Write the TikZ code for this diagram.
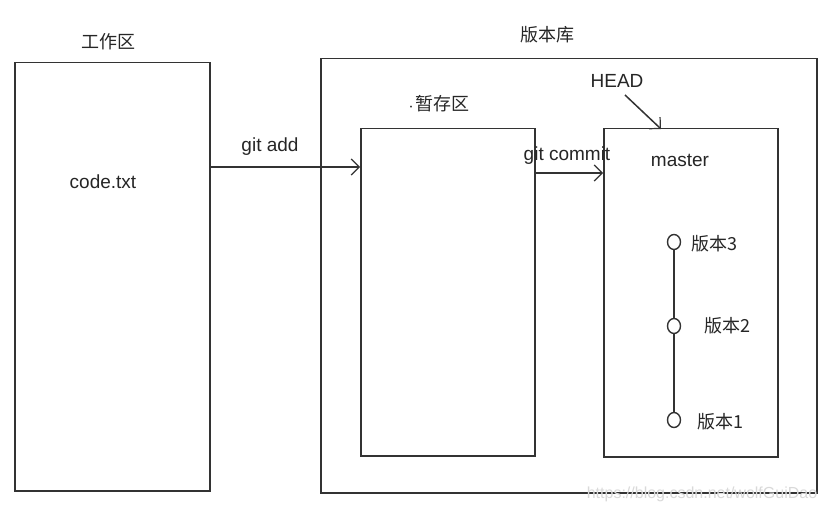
\documentclass[tikz,border=0pt]{standalone}
\usepackage{fontspec}
\setmainfont{Liberation Sans}
\newfontfamily\cjk{Noto Sans CJK SC}
\usetikzlibrary{arrows.meta,shapes.geometric}
\begin{document}
\begin{tikzpicture}[x=1pt,y=-1pt,
  box/.style={draw=black!80,line width=1.5pt},
  lbl/.style={font=\fontsize{19}{22}\selectfont,text=black!85,inner sep=0pt},
  clbl/.style={font=\cjk\fontsize{18}{22}\selectfont,text=black!85,inner sep=0pt},
  conn/.style={draw=black!80,line width=1.5pt,-{Straight Barb[length=8pt,width=16pt,line width=1.2pt]}},
  commit/.style={ellipse,draw=black!80,line width=1.4pt,minimum width=13pt,minimum height=15pt,inner sep=0pt,fill=white}]
\useasboundingbox (0,0) rectangle (830,510);
\fill[white] (0,0) rectangle (830,510);
% boxes
\node[box,minimum width=195pt,minimum height=428pt,inner sep=0pt,anchor=north west] (work) at (14,62) {};
\node[box,minimum width=496pt,minimum height=434pt,inner sep=0pt,anchor=north west] (repo) at (320,58) {};
\node[box,minimum width=174pt,minimum height=327pt,inner sep=0pt,anchor=north west] (stage) at (360,128) {};
\node[box,minimum width=174pt,minimum height=328pt,inner sep=0pt,anchor=north west] (master) at (603,128) {};
% labels
\node[clbl] (worklbl) at (108,42) {工作区};
\node[clbl] (repolbl) at (547,35) {版本库};
\node[clbl] (stagelbl) at (438,104) {{\fontsize{9}{9}\selectfont·}暂存区};
\node[lbl] (code) at (103,182) {code.txt};
\node[lbl] (masterlbl) at (680,160) {master};
\node[lbl] (head) at (617,81) {HEAD};
% arrows
\coordinate (addA) at (209,167);
\coordinate (addB) at (360,167);
\draw[conn] (addA) -- (addB);
\node[lbl] (addlbl) at (270,147) {git add};
\coordinate (comA) at (534,173);
\coordinate (comB) at (603,173);
\draw[conn] (comA) -- (comB);
\node[lbl] (comlbl) at (567,156) {git commit};
\coordinate (headA) at (625,95);
\coordinate (headB) at (661,129);
\draw[conn] (headA) -- (headB);
% commits
\node[commit] (c3) at (674,242) {};
\node[commit] (c2) at (674,326) {};
\node[commit] (c1) at (674,420) {};
\draw[draw=black!80,line width=1.3pt] (c3) -- (c2) -- (c1);
\node[clbl] (v3) at (714,244) {版本3};
\node[clbl] (v2) at (727,326) {版本2};
\node[clbl] (v1) at (720,422) {版本1};
% watermark
\node[font=\fontsize{16}{18}\selectfont,text=black!15,inner sep=0pt] (wm) at (702,494) {https://blog.csdn.net/wolfGuiDao};
\end{tikzpicture}
\end{document}
